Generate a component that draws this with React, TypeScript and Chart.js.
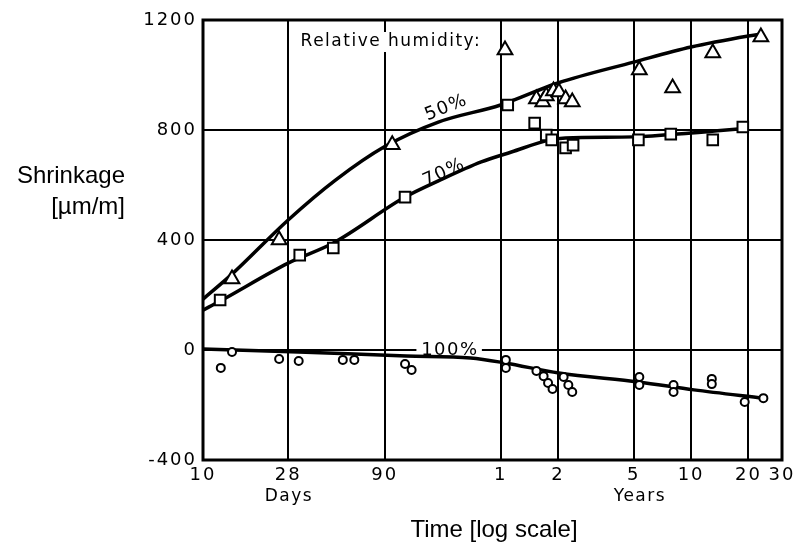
import React, { useEffect, useRef } from 'react';
import { Chart, registerables } from 'chart.js';

Chart.register(...registerables);

// ---- axis ticks ----
const xTickDays = [10, 28, 90, 365.25, 730.5, 1826.25, 3652.5, 7305, 10957.5];
const xTickLabels = ['10', '28', '90', '1', '2', '5', '10', '20', '30'];
const yMin = -400;
const yMax = 1200;
const yStep = 400;

// ---- measured points (x in days, y in µm/m) ----
const rh50Days = [14.2, 25.1, 98.5, 385, 563, 608, 634, 692, 739, 801, 868, 1953, 2920, 4745, 8488];
const rh50Vals = [258, 400, 746, 1091, 913, 902, 924, 942, 938, 913, 902, 1018, 953, 1080, 1138];

const rh70Days = [12.3, 32.2, 48.3, 115, 398, 551, 634, 677, 801, 877, 1931, 2856, 4745, 6823];
const rh70Vals = [182, 345, 371, 556, 891, 825, 782, 764, 735, 745, 764, 785, 764, 811];

const rh100Days = [12.4, 14.2, 25.1, 31.8, 54.2, 62.3, 115, 124.5, 389, 389, 563, 614, 648, 684, 782, 828, 868, 1953, 1953, 2953, 2953, 4690, 4690, 6980, 8749];
const rh100Vals = [-65, -7, -33, -40, -36, -36, -51, -73, -36, -65, -76, -95, -120, -142, -98, -127, -153, -98, -127, -127, -153, -105, -124, -189, -175];

// ---- fitted curves ----
const curve50Days = [10, 14.2, 28, 49.6, 90, 172, 365, 730, 1826, 3652, 7305, 8488];
const curve50Vals = [185, 276, 473, 618, 740, 829, 891, 971, 1047, 1102, 1142, 1149];

const curve70Days = [10, 12.3, 28, 48.3, 115, 172, 289, 416, 662, 801, 1826, 3652, 7305];
const curve70Vals = [145, 178, 316, 389, 556, 615, 684, 720, 764, 771, 775, 789, 807];

const curve100Days = [10, 31.8, 116.7, 254, 385, 739, 1931, 3780, 8749];
const curve100Vals = [4, -7, -22, -29, -47, -84, -116, -145, -175];

// ---- texts ----
const yTitleLines = ['Shrinkage', '[µm/m]'];
const xTitle = 'Time [log scale]';
const legendTitle = 'Relative humidity:';
const curveLabels = ['50%', '70%', '100%'];

const FONT = '"DejaVu Sans", sans-serif';
const TITLE_FONT = '"Liberation Sans", Arial, sans-serif';

function pts(xs: number[], ys: number[]) {
  return xs.map((x, i) => ({ x, y: ys[i] }));
}

function drawText(
  ctx: CanvasRenderingContext2D,
  text: string,
  x: number,
  y: number,
  o: { font: string; align?: CanvasTextAlign; baseline?: CanvasTextBaseline; spacing?: number; rot?: number; bg?: boolean }
) {
  ctx.save();
  ctx.font = o.font;
  (ctx as any).letterSpacing = (o.spacing || 0) + 'px';
  ctx.textAlign = o.align || 'center';
  ctx.textBaseline = o.baseline || 'middle';
  ctx.translate(x, y);
  if (o.rot) ctx.rotate((o.rot * Math.PI) / 180);
  if (o.bg) {
    const w = ctx.measureText(text).width;
    ctx.fillStyle = '#fff';
    ctx.fillRect(-w / 2 - 4, -10, w + 8, 20);
  }
  ctx.fillStyle = '#000';
  ctx.fillText(text, (o.spacing || 0) / 2, 0);
  ctx.restore();
}

export default function App() {
  const ref = useRef<HTMLCanvasElement>(null);

  useEffect(() => {
    const canvas = ref.current;
    if (!canvas) return;

    const annot = {
      id: 'annot',
      beforeDraw(chart: any) {
        (chart.ctx as any).letterSpacing = '2px';
      },
      beforeDatasetsDraw(chart: any) {
        const ctx = chart.ctx as CanvasRenderingContext2D;
        const xs = chart.scales.x;
        const ys = chart.scales.y;
        const f = `17px ${FONT}`;
        drawText(ctx, legendTitle, xs.getPixelForValue(96), ys.getPixelForValue(1120), { font: f, spacing: 1.5, bg: true });
        drawText(ctx, curveLabels[0], xs.getPixelForValue(188), ys.getPixelForValue(880), { font: `18px ${FONT}`, spacing: 1.5, rot: -22 });
        drawText(ctx, curveLabels[1], xs.getPixelForValue(183), ys.getPixelForValue(644), { font: `18px ${FONT}`, spacing: 1.5, rot: -25 });
        drawText(ctx, curveLabels[2], xs.getPixelForValue(196), ys.getPixelForValue(0), { font: `18px ${FONT}`, spacing: 1.5, bg: true });
        const a = chart.chartArea;
        ctx.save();
        ctx.strokeStyle = '#000';
        ctx.lineWidth = 3;
        ctx.strokeRect(a.left, a.top, a.right - a.left, a.bottom - a.top);
        ctx.restore();
      },
      afterDraw(chart: any) {
        const ctx = chart.ctx as CanvasRenderingContext2D;
        const xs = chart.scales.x;
        const f = `17px ${FONT}`;
        drawText(ctx, 'Days', xs.getPixelForValue(28), 497, { font: f, spacing: 1.5 });
        drawText(ctx, 'Years', xs.getPixelForValue(1950), 497, { font: f, spacing: 1.5 });
        const tf = `24px ${TITLE_FONT}`;
        drawText(ctx, yTitleLines[0], 125, 183, { font: tf, align: 'right', baseline: 'alphabetic' });
        drawText(ctx, yTitleLines[1], 125, 214, { font: tf, align: 'right', baseline: 'alphabetic' });
        drawText(ctx, xTitle, 494, 537, { font: tf, align: 'center', baseline: 'alphabetic' });
      },
    };

    const marker = (style: string, r: number) => ({
      showLine: false,
      pointStyle: style,
      pointRadius: r,
      pointHoverRadius: r,
      pointBackgroundColor: '#fff',
      pointBorderColor: '#000',
      pointBorderWidth: 2,
    });
    const curve = {
      showLine: true,
      pointRadius: 0,
      borderColor: '#000',
      borderWidth: 3.5,
      cubicInterpolationMode: 'monotone' as const,
      fill: false,
    };

    const chart = new Chart(canvas, {
      type: 'scatter',
      data: {
        datasets: [
          { label: '50% points', data: pts(rh50Days, rh50Vals), ...marker('triangle', 8.5) },
          { label: '70% points', data: pts(rh70Days, rh70Vals), ...marker('rect', 7.5) },
          { label: '100% points', data: pts(rh100Days, rh100Vals), ...marker('circle', 4) },
          { label: '50%', data: pts(curve50Days, curve50Vals), ...curve },
          { label: '70%', data: pts(curve70Days, curve70Vals), ...curve },
          { label: '100%', data: pts(curve100Days, curve100Vals), ...curve },
        ] as any,
      },
      options: {
        responsive: false,
        animation: false,
        events: [],
        layout: { padding: { left: 0, top: 20, right: 18, bottom: 0 } },
        plugins: { legend: { display: false }, tooltip: { enabled: false } },
        scales: {
          x: {
            type: 'logarithmic',
            min: xTickDays[0],
            max: xTickDays[xTickDays.length - 1],
            afterBuildTicks: (s: any) => {
              s.ticks = xTickDays.map((v) => ({ value: v }));
            },
            afterFit: (s: any) => {
              s.height = 84;
            },
            ticks: {
              autoSkip: false,
              maxRotation: 0,
              padding: 5,
              color: '#000',
              font: { family: FONT, size: 18 },
              callback: (_v: any, i: number) => xTickLabels[i],
            },
            grid: { color: '#000', lineWidth: 2, drawTicks: false },
            border: { display: false },
          },
          y: {
            type: 'linear',
            min: yMin,
            max: yMax,
            afterFit: (s: any) => {
              s.width = 203;
            },
            ticks: {
              stepSize: yStep,
              padding: 6,
              color: '#000',
              font: { family: FONT, size: 18 },
              callback: (v: any) => String(v),
            },
            grid: { color: '#000', lineWidth: 2, drawTicks: false },
            border: { display: false },
          },
        },
      } as any,
      plugins: [annot],
    });

    return () => chart.destroy();
  }, []);

  return (
    <div style={{ position: 'fixed', left: 0, top: 0, width: 800, height: 544, background: '#fff' }}>
      <canvas ref={ref} width={800} height={544} style={{ display: 'block', width: 800, height: 544 }} />
    </div>
  );
}
